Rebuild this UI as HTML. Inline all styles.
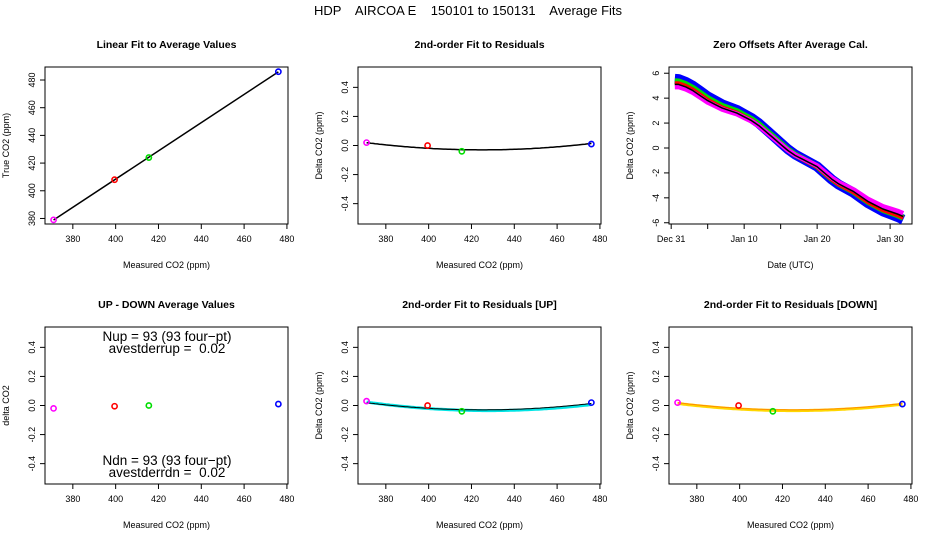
<!DOCTYPE html>
<html><head><meta charset="utf-8"><style>
body{margin:0;background:#fff}
svg{display:block;font-family:"Liberation Sans",sans-serif}
</style></head><body>
<svg id="c" width="936" height="540" xmlns="http://www.w3.org/2000/svg">
<text x="468" y="15" text-anchor="middle" font-size="13" style="white-space:pre">HDP    AIRCOA E    150101 to 150131    Average Fits</text>
</svg>
<script>
// data
const measured = [371, 399.5, 415.5, 476];
const trueVals = [379, 408, 424, 486];
const ptColors = ['#ff00ff', '#ff0000', '#00dd00', '#0000ff'];
const residAll = [0.02, 0.0, -0.04, 0.01];
const residUp = [0.03, 0.0, -0.04, 0.02];
const residDn = [0.02, 0.0, -0.04, 0.01];
const updown = [-0.02, -0.005, 0.0, 0.01];
const fitAll = [1.7e-5, 425, -0.03];   // a, vertex x, vertex y
const fitUp = [1.8e-5, 428, -0.035];
const fitDn = [1.7e-5, 425, -0.035];
const xTicks = [380, 400, 420, 440, 460, 480];
const trueTicks = [380, 400, 420, 440, 460, 480];
const residTicks = [-0.4, -0.2, 0.0, 0.2, 0.4];
const zoDays = [0.5,1,2,3,4,5,6,7,8,9,10,11,12,13,14,15,16,17,18,19,20,21,22,23,24,25,26,27,28,29,30,31,31.8];
const zoMean = [5.1,5.1,4.9,4.6,4.2,3.8,3.5,3.2,3.0,2.8,2.5,2.2,1.8,1.3,0.8,0.3,-0.2,-0.6,-0.9,-1.2,-1.5,-2.0,-2.5,-2.9,-3.2,-3.5,-3.9,-4.3,-4.6,-4.9,-5.1,-5.3,-5.5];
const zoOffsetStart = [0.45, 0.25, 0.1, -0.2, 0];  // blue, green, red, magenta, black
const zoOffsetEnd = [-0.25, -0.1, -0.1, 0.25, 0];
const zoColors = ['#0000ff', '#00dd00', '#ff0000', '#ff00ff', '#000000'];
const zoWidths = [10, 6, 4, 5, 1.5];
const zoTicks = [-6, -4, -2, 0, 2, 4, 6];

const svg = document.getElementById('c');
const NS = 'http://www.w3.org/2000/svg';
function mk(tag, attrs, parent) {
  const e = document.createElementNS(NS, tag);
  for (const k in attrs) e.setAttribute(k, attrs[k]);
  (parent || svg).appendChild(e);
  return e;
}
function txt(x, y, s, size, parent, extra) {
  const t = mk('text', Object.assign({x: x, y: y, 'font-size': size, 'text-anchor': 'middle'}, extra || {}), parent);
  t.textContent = s;
  return t;
}
const W = 243, H = 157;
function panel(name, bx, by, title, xlab, ylab, xmin, xmax, ymin, ymax) {
  const g = mk('g', {});
  
  
  const sx = v => bx + (v - xmin) / (xmax - xmin) * W;
  const sy = v => by + H - (v - ymin) / (ymax - ymin) * H;
  const r = mk('rect', {x: bx, y: by, width: W, height: H, fill: 'none', stroke: '#000', 'stroke-width': 1}, g);
  
  
  const t = txt(bx + W / 2, by - 19, title, 10.5, g, {'font-weight': 'bold'});
  
  
  const xl = txt(bx + W / 2, by + H + 44, xlab, 9, g);
  
  
  const yl = txt(0, 0, ylab, 9, g, {transform: `translate(${bx - 36},${by + H / 2}) rotate(-90)`});
  
  
  return {g, sx, sy, bx, by};
}
function xAxis(p, ticks, labels) {
  ticks.forEach((v, i) => {
    const x = p.sx(v);
    mk('line', {x1: x, x2: x, y1: p.by + H, y2: p.by + H + 5, stroke: '#000'}, p.g);
    if (labels[i] !== null) {
      const t = txt(x, p.by + H + 18, labels[i], 9, p.g);
      
      
    }
  });
}
function yAxis(p, ticks, fmt) {
  ticks.forEach(v => {
    const y = p.sy(v);
    mk('line', {x1: p.bx, x2: p.bx - 5, y1: y, y2: y, stroke: '#000'}, p.g);
    const t = txt(0, 0, fmt(v), 9, p.g, {transform: `translate(${p.bx - 10},${y}) rotate(-90)`});
    
    
  });
}
function pts(p, xs, ys) {
  xs.forEach((v, i) => {
    const c = mk('circle', {cx: p.sx(v), cy: p.sy(ys[i]), r: 2.6, fill: 'none', stroke: ptColors[i], 'stroke-width': 1.6}, p.g);
    
    
  });
}
function quad(p, f, color, w) {
  let d = '';
  for (let x = 371; x <= 476; x += 1) {
    const y = f[0] * (x - f[1]) * (x - f[1]) + f[2];
    d += (d ? 'L' : 'M') + p.sx(x).toFixed(1) + ',' + p.sy(y).toFixed(1);
  }
  const l = mk('path', {d: d, fill: 'none', stroke: color, 'stroke-width': w}, p.g);
  
  
}
const f1 = v => v.toFixed(1);
const fi = v => String(v);
const xLabs = xTicks.map(String);
const XMIN = 367, XMAX = 480.5;

// Panel 1
let p = panel('linear-fit-panel', 45, 67, 'Linear Fit to Average Values', 'Measured CO2 (ppm)', 'True CO2 (ppm)', XMIN, XMAX, 376, 489.4);
xAxis(p, xTicks, xLabs); yAxis(p, trueTicks, fi);
{
  const n = measured.length;
  const mx = measured.reduce((a, b) => a + b) / n, my = trueVals.reduce((a, b) => a + b) / n;
  let sxy = 0, sxx = 0;
  measured.forEach((x, i) => { sxy += (x - mx) * (trueVals[i] - my); sxx += (x - mx) * (x - mx); });
  const b = sxy / sxx, a = my - b * mx;
  const l = mk('line', {x1: p.sx(measured[0]), y1: p.sy(a + b * measured[0]), x2: p.sx(measured[n - 1]), y2: p.sy(a + b * measured[n - 1]), stroke: '#000', 'stroke-width': 1.5}, p.g);
  
  
}
pts(p, measured, trueVals);

// Panel 2
p = panel('residual-fit-panel', 358, 67, '2nd-order Fit to Residuals', 'Measured CO2 (ppm)', 'Delta CO2 (ppm)', XMIN, XMAX, -0.54, 0.54);
xAxis(p, xTicks, xLabs); yAxis(p, residTicks, f1);
quad(p, fitAll, '#000', 1.5); pts(p, measured, residAll);

// Panel 3
p = panel('zero-offsets-panel', 669, 67, 'Zero Offsets After Average Cal.', 'Date (UTC)', 'Delta CO2 (ppm)', -0.3, 33, -6.1, 6.5);
xAxis(p, [0, 5, 10, 15, 20, 25, 30], ['Dec 31', null, 'Jan 10', null, 'Jan 20', null, 'Jan 30']);
yAxis(p, zoTicks, fi);
zoColors.forEach((c, s) => {
  const n = zoDays.length;
  let d = '';
  zoDays.forEach((day, i) => {
    const off = zoOffsetStart[s] + (zoOffsetEnd[s] - zoOffsetStart[s]) * i / (n - 1);
    d += (i ? 'L' : 'M') + p.sx(day).toFixed(1) + ',' + p.sy(zoMean[i] + off).toFixed(1);
  });
  const l = mk('path', {d: d, fill: 'none', stroke: c, 'stroke-width': zoWidths[s], 'stroke-linejoin': 'round'}, p.g);
  
  
});

// Panel 4
p = panel('up-down-panel', 45, 327, 'UP - DOWN Average Values', 'Measured CO2 (ppm)', 'delta CO2', XMIN, XMAX, -0.54, 0.54);
xAxis(p, xTicks, xLabs); yAxis(p, residTicks, f1);
pts(p, measured, updown);
[['Nup = 93 (93 four\u2212pt)', 16], ['avestderrup =  0.02', 28], ['Ndn = 93 (93 four\u2212pt)', 140], ['avestderrdn =  0.02', 152]].forEach(a => {
  const t = txt(p.bx + 122, p.by + a[1] - 2, a[0], 13.5, p.g, {style: 'white-space:pre'});
  
  
});

// Panel 5
p = panel('residual-up-panel', 358, 327, '2nd-order Fit to Residuals [UP]', 'Measured CO2 (ppm)', 'Delta CO2 (ppm)', XMIN, XMAX, -0.54, 0.54);
xAxis(p, xTicks, xLabs); yAxis(p, residTicks, f1);
quad(p, fitUp, '#00e5e5', 3); quad(p, fitAll, '#000', 1); pts(p, measured, residUp);

// Panel 6
p = panel('residual-down-panel', 669, 327, '2nd-order Fit to Residuals [DOWN]', 'Measured CO2 (ppm)', 'Delta CO2 (ppm)', XMIN, XMAX, -0.54, 0.54);
xAxis(p, xTicks, xLabs); yAxis(p, residTicks, f1);
quad(p, fitDn, '#ffd700', 3); quad(p, fitAll, '#ff8c00', 1); pts(p, measured, residDn);
</script>
</body></html>
